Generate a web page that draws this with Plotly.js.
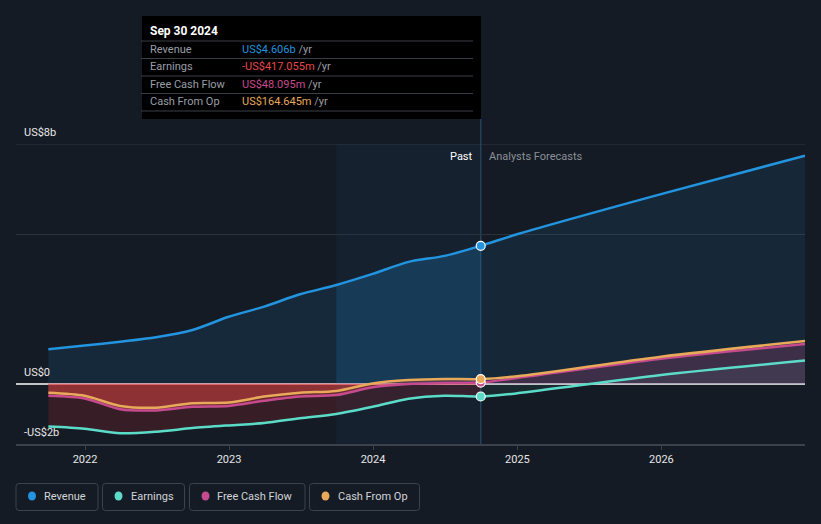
<!DOCTYPE html>
<html>
<head>
<meta charset="utf-8">
<script src="https://cdn.plot.ly/plotly-3.0.1.min.js"></script>
<style>
html,body{margin:0;padding:0;background:#151b24;}
#chart{width:821px;height:524px;}
</style>
</head>
<body>
<div id="chart"></div>
<script>
// ---------- DATA (US$ billions) ----------
const pastDates = ['2021-09-30','2021-12-31','2022-03-31','2022-06-30','2022-09-30','2022-12-31','2023-03-31','2023-06-30','2023-09-30','2023-12-31','2024-03-31','2024-06-30','2024-09-30'];
const revenuePast  = [1.16, 1.28, 1.41, 1.56, 1.80, 2.24, 2.58, 2.99, 3.30, 3.67, 4.07, 4.27, 4.606];
const earningsPast = [-1.42, -1.49, -1.64, -1.59, -1.47, -1.38, -1.30, -1.14, -1.00, -0.76, -0.49, -0.39, -0.417];
const fcfPast      = [-0.39, -0.48, -0.84, -0.88, -0.76, -0.73, -0.56, -0.42, -0.37, -0.11, 0.00, 0.03, 0.048];
const cfoPast      = [-0.29, -0.39, -0.73, -0.79, -0.64, -0.62, -0.42, -0.29, -0.23, 0.02, 0.13, 0.17, 0.165];

const forecastDates    = ['2024-09-30','2024-12-31','2025-12-31','2026-12-31'];
const revenueForecast  = [4.606, 4.99, 6.33, 7.61];
const earningsForecast = [-0.417, -0.31, 0.30, 0.78];
const fcfForecast      = [0.048, 0.20, 0.84, 1.33];
const cfoForecast      = [0.165, 0.26, 0.91, 1.43];

const seriesNames  = ['Revenue', 'Earnings', 'Free Cash Flow', 'Cash From Op'];
const seriesColors = ['#2394df', '#5cdcc8', '#c64b8e', '#e9a95a'];

const highlightStartIndex = 8; // Sep 30 2023
const xRange = ['2021-07-10', '2026-12-31'];
const yearTicks  = ['2022-01-01','2023-01-01','2024-01-01','2025-01-01','2026-01-01'];
const yearLabels = ['2022','2023','2024','2025','2026'];
const yLabelVals = [8, 0, -2];
const yLabelText = ['US$8b', 'US$0', '-US$2b'];
const gridVals = [5, 8];

const tooltipTitle = 'Sep 30 2024';
const tooltipValues = ['US$4.606b', '-US$417.055m', 'US$48.095m', 'US$164.645m'];
const tooltipValueColors = ['#2394df', '#e8484a', '#c94b8c', '#e9a95a'];

// ---------- LAYOUT HELPERS ----------
const W = 821, H = 524, ML = 16, MR = 16, MT = 144, MB = 80;
const PW = W - ML - MR, PH = H - MT - MB, PB = H - MB;
const px2x = p => (p - ML) / PW;
const py2y = p => (PB - p) / PH;
const FONT = 'Roboto, "Open Sans", sans-serif';

const pastSeries = [revenuePast, earningsPast, fcfPast, cfoPast];
const fcSeries = [revenueForecast, earningsForecast, fcfForecast, cfoForecast];
const pastFill = ['rgba(33,148,223,0.12)', 'rgba(190,40,50,0.20)', 'rgba(225,70,70,0.30)', 'rgba(225,70,70,0.30)'];
const fcFill = ['rgba(33,148,223,0.11)', 'rgba(88,213,197,0.08)', 'rgba(200,75,120,0.12)', 'rgba(200,75,120,0.12)'];
const SMOOTH = 0.8;

const traces = [];
// extra revenue fill for highlighted last year
traces.push({x: pastDates.slice(highlightStartIndex), y: revenuePast.slice(highlightStartIndex), type: 'scatter', mode: 'lines',
  line: {width: 0, shape: 'spline', smoothing: SMOOTH}, fill: 'tozeroy', fillcolor: 'rgba(33,148,223,0.13)',
  hoverinfo: 'skip', showlegend: false});
// fills
for (let i = 0; i < 4; i++) {
  traces.push({x: pastDates, y: pastSeries[i], type: 'scatter', mode: 'lines',
    line: {width: 0, shape: 'spline', smoothing: SMOOTH}, fill: 'tozeroy', fillcolor: pastFill[i],
    hoverinfo: 'skip', showlegend: false});
  traces.push({x: forecastDates, y: fcSeries[i], type: 'scatter', mode: 'lines',
    line: {width: 0, shape: 'spline', smoothing: SMOOTH}, fill: 'tozeroy', fillcolor: fcFill[i],
    hoverinfo: 'skip', showlegend: false});
}
// lines
for (let i = 0; i < 4; i++) {
  traces.push({x: pastDates.concat(forecastDates.slice(1)), y: pastSeries[i].concat(fcSeries[i].slice(1)),
    type: 'scatter', mode: 'lines', name: seriesNames[i],
    line: {color: seriesColors[i], width: 2.5, shape: 'spline', smoothing: SMOOTH},
    hoverinfo: 'skip', showlegend: false});
}
// markers at last reported point
for (let i = 0; i < 4; i++) {
  const k = pastDates.length - 1;
  traces.push({x: [pastDates[k]], y: [pastSeries[i][k]], type: 'scatter', mode: 'markers',
    marker: {size: 9, color: seriesColors[i], line: {color: '#ffffff', width: 1.2}},
    hoverinfo: 'skip', showlegend: false});
}

const lastDate = pastDates[pastDates.length - 1];
const shapes = [
  // highlighted last year
  {type: 'rect', xref: 'x', yref: 'paper', x0: pastDates[highlightStartIndex], x1: lastDate, y0: 0, y1: 1,
   fillcolor: 'rgba(35,140,220,0.06)', line: {width: 0}, layer: 'below'},
  // top gridline
  {type: 'line', xref: 'paper', yref: 'y', x0: 0, x1: 1, y0: gridVals[1], y1: gridVals[1],
   line: {color: '#2f3640', width: 1}, layer: 'below'},
  // zero line
  {type: 'line', xref: 'paper', yref: 'y', x0: 0, x1: 1, y0: 0, y1: 0,
   line: {color: '#ffffff', width: 1.5}, layer: 'between'},
  {type: 'line', xref: 'x', yref: 'y', x0: pastDates[0], x1: lastDate, y0: 0, y1: 0,
   line: {color: '#e79595', width: 1.5}, layer: 'between'},
  // today line
  {type: 'line', xref: 'x', yref: 'paper', x0: lastDate, x1: lastDate, y0: 0, y1: py2y(119),
   line: {color: 'rgba(38,78,110,0.75)', width: 1.5}, layer: 'below'},
  // tooltip box
  {type: 'rect', xref: 'paper', yref: 'paper', x0: px2x(142), x1: px2x(481), y0: py2y(119), y1: py2y(16),
   fillcolor: '#000000', line: {width: 0}, layer: 'above'}
];
[41, 58.5, 76, 93.5, 111].forEach(yy => shapes.push({type: 'line', xref: 'paper', yref: 'paper',
  x0: px2x(141), x1: px2x(473), y0: py2y(yy), y1: py2y(yy), line: {color: '#3a3f47', width: 1}, layer: 'above'}));

const annotations = [];
// y labels
yLabelVals.forEach((v, i) => annotations.push({xref: 'paper', yref: 'y', x: px2x(24), y: v, yshift: 12,
  xanchor: 'left', yanchor: 'middle', text: yLabelText[i], showarrow: false, borderpad: 0, borderwidth: 0,
  font: {family: FONT, size: 11, color: '#e8e8e8'}}));
// past / forecast
annotations.push({xref: 'x', yref: 'paper', x: lastDate, y: py2y(156), xanchor: 'right', yanchor: 'middle',
  xshift: -8, text: 'Past', showarrow: false, borderpad: 0, borderwidth: 0,
  font: {family: FONT, size: 11, color: '#ffffff'}});
annotations.push({xref: 'x', yref: 'paper', x: lastDate, y: py2y(156), xanchor: 'left', yanchor: 'middle',
  xshift: 8, text: 'Analysts Forecasts', showarrow: false, borderpad: 0, borderwidth: 0,
  font: {family: FONT, size: 11, color: '#8b9099'}});
// tooltip
annotations.push({xref: 'paper', yref: 'paper', x: px2x(150), y: py2y(31), xanchor: 'left', yanchor: 'middle',
  text: '<b>' + tooltipTitle + '</b>', showarrow: false, borderpad: 0, borderwidth: 0,
  font: {family: FONT, size: 12, color: '#ffffff'}});
[49.3, 66.7, 84.3, 101.7].forEach((yy, i) => {
  annotations.push({xref: 'paper', yref: 'paper', x: px2x(150), y: py2y(yy), xanchor: 'left', yanchor: 'middle',
    text: seriesNames[i], showarrow: false, borderpad: 0, borderwidth: 0,
    font: {family: FONT, size: 11, color: '#9a9ea6'}});
  annotations.push({xref: 'paper', yref: 'paper', x: px2x(242), y: py2y(yy), xanchor: 'left', yanchor: 'middle',
    text: '<span style="color:' + tooltipValueColors[i] + '">' + tooltipValues[i] + '</span> /yr',
    showarrow: false, borderpad: 0, borderwidth: 0,
    font: {family: FONT, size: 11, color: '#9a9ea6'}});
});
// legend
const legendBoxes = [[16, 98], [102.5, 184.5], [189.5, 305], [309.5, 419.5]];
function roundRect(x0, y0, x1, y1, r) {
  const X = px2x, Y = py2y;
  return 'M' + X(x0 + r) + ',' + Y(y0) + ' L' + X(x1 - r) + ',' + Y(y0) +
    ' Q' + X(x1) + ',' + Y(y0) + ' ' + X(x1) + ',' + Y(y0 + r) +
    ' L' + X(x1) + ',' + Y(y1 - r) + ' Q' + X(x1) + ',' + Y(y1) + ' ' + X(x1 - r) + ',' + Y(y1) +
    ' L' + X(x0 + r) + ',' + Y(y1) + ' Q' + X(x0) + ',' + Y(y1) + ' ' + X(x0) + ',' + Y(y1 - r) +
    ' L' + X(x0) + ',' + Y(y0 + r) + ' Q' + X(x0) + ',' + Y(y0) + ' ' + X(x0 + r) + ',' + Y(y0) + ' Z';
}
legendBoxes.forEach((b, i) => {
  shapes.push({type: 'path', xref: 'paper', yref: 'paper', path: roundRect(b[0], 483.5, b[1], 510.5, 3),
    line: {color: '#3d434c', width: 1}, fillcolor: 'rgba(0,0,0,0)'});
  const cx = b[0] + 16;
  shapes.push({type: 'circle', xref: 'paper', yref: 'paper', x0: px2x(cx - 4), x1: px2x(cx + 4),
    y0: py2y(496 + 4.5), y1: py2y(496 - 4.5), fillcolor: seriesColors[i], line: {width: 0}});
  annotations.push({xref: 'paper', yref: 'paper', x: px2x(b[0] + 28), y: py2y(496.5), xanchor: 'left', yanchor: 'middle',
    text: seriesNames[i], showarrow: false, borderpad: 0, borderwidth: 0,
    font: {family: FONT, size: 11, color: '#d2d5d9'}});
});

const layout = {
  width: W, height: H,
  margin: {l: ML, r: MR, t: MT, b: MB, pad: 0},
  paper_bgcolor: '#151b24', plot_bgcolor: '#151b24',
  showlegend: false,
  xaxis: {type: 'date', range: xRange, tickvals: yearTicks, ticktext: yearLabels,
    showgrid: false, zeroline: false, showline: true, linecolor: '#3b424c', linewidth: 1.5,
    ticks: 'outside', ticklen: 4, tickcolor: '#3b424c', tickwidth: 1,
    tickfont: {family: FONT, size: 11, color: '#e6e6e6'}, fixedrange: true},
  yaxis: {range: [-2, 8], tickvals: gridVals, showticklabels: false, showgrid: true,
    gridcolor: '#2b323c', gridwidth: 1, zeroline: false, ticks: '', fixedrange: true},
  shapes: shapes,
  annotations: annotations,
  hovermode: false
};

Plotly.newPlot('chart', traces, layout, {displayModeBar: false, staticPlot: true});
</script>
</body>
</html>
